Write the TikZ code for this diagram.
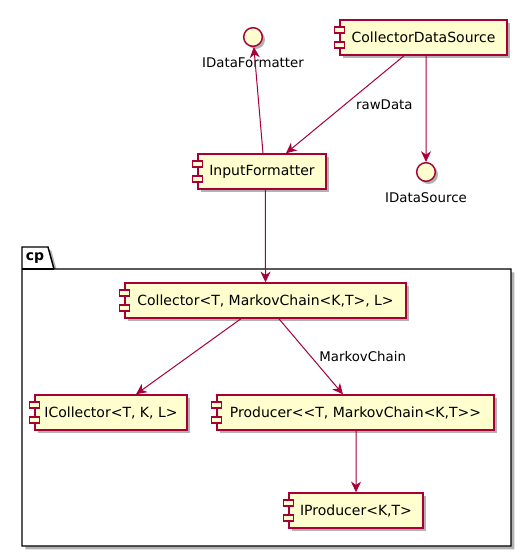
\documentclass[tikz,border=0pt]{standalone}
\usepackage{fontspec}
\setmainfont{DejaVu Sans}[Ligatures=TeXOff]
\usetikzlibrary{positioning,shadows,arrows.meta}
\definecolor{umlred}{HTML}{A80036}
\definecolor{umlfill}{HTML}{FEFECE}
\tikzset{
  comp/.style={draw=umlred, fill=umlfill, line width=1.1pt, minimum height=26.25pt,
    inner xsep=6pt, font=\fontsize{10.5}{12}\selectfont,
    drop shadow={shadow xshift=2.5pt, shadow yshift=-2.5pt, opacity=0.3, fill=black}},
  iface/.style={circle, draw=umlred, fill=umlfill, line width=1.1pt, minimum size=14pt, inner sep=0pt,
    drop shadow={shadow xshift=2pt, shadow yshift=-2pt, opacity=0.3, fill=black}},
  icon/.style={draw=umlred, fill=umlfill, line width=1.1pt},
  lbl/.style={font=\fontsize{10}{12}\selectfont, inner sep=1pt},
  arr/.style={draw=umlred, line width=0.75pt, -{Stealth[length=8pt, width=7.5pt, inset=2.5pt]}}
}
\begin{document}
\begin{tikzpicture}[x=0.75pt, y=-0.75pt]
    \useasboundingbox (0,0) rectangle (530,556);
    % package cp
    \draw[line width=1.1pt, fill=white, drop shadow={shadow xshift=2.5pt, shadow yshift=-2.5pt, opacity=0.3, fill=black}]
      (22,247) -- (48,247) -- (54,269) -- (511,269) -- (511,546) -- (22,546) -- cycle;
    \draw[line width=1.1pt] (22,269) -- (54,269);
    \node[font=\fontsize{10.5}{12}\selectfont\bfseries, inner sep=0pt] (cp) at (35,258) {cp};
    % interfaces
    \node[iface] (idf) at (253,37) {};
    \node[lbl, below=7pt of idf] (idfl) {IDataFormatter};
    \node[iface] (ids) at (426,172) {};
    \node[lbl, below=7pt of ids] (idsl) {IDataSource};
    % components
    \node[comp, minimum width=125.25pt] (cds) at (423.5,37.5) {CollectorDataSource};
    \node[comp, minimum width=96pt] (inf) at (262,171.5) {InputFormatter};
    \node[comp, minimum width=210.75pt] (col) at (265.5,300.5) {Collector<T, MarkovChain<K,T>, L>};
    \node[comp, minimum width=114pt] (icol) at (111,412.5) {ICollector<T, K, L>};
    \node[comp, minimum width=207.75pt] (prod) at (355.5,412.5) {Producer<<T, MarkovChain<K,T>>};
    \node[comp, minimum width=100.5pt] (iprod) at (356,510.5) {IProducer<K,T>};
    \foreach \n in {cds,inf,col,icol,prod,iprod}{
      \draw[icon] (\n.west)++(-5,-10.5) rectangle ++(10,6);
      \draw[icon] (\n.west)++(-5,4.5) rectangle ++(10,6);
    }
    % connectors
    \draw[arr] ([xshift=0.75pt]inf.north) -- (idf);
    \draw[arr] ([xshift=-14.6pt]cds.south) -- ([xshift=18pt]inf.north)
      node[lbl, midway, right=7pt] (raw) {rawData};
    \draw[arr] ([xshift=1.9pt]cds.south) -- (ids);
    \draw[arr] ([xshift=2.6pt]inf.south) -- (col.north);
    \draw[arr] ([xshift=-18.4pt]col.south) -- ([xshift=18.75pt]icol.north);
    \draw[arr] ([xshift=10pt]col.south) -- ([xshift=-9.4pt]prod.north)
      node[lbl, midway, right=5pt] (mc) {MarkovChain};
    \draw[arr] ([xshift=0.4pt]prod.south) -- (iprod.north);
\end{tikzpicture}
\end{document}
